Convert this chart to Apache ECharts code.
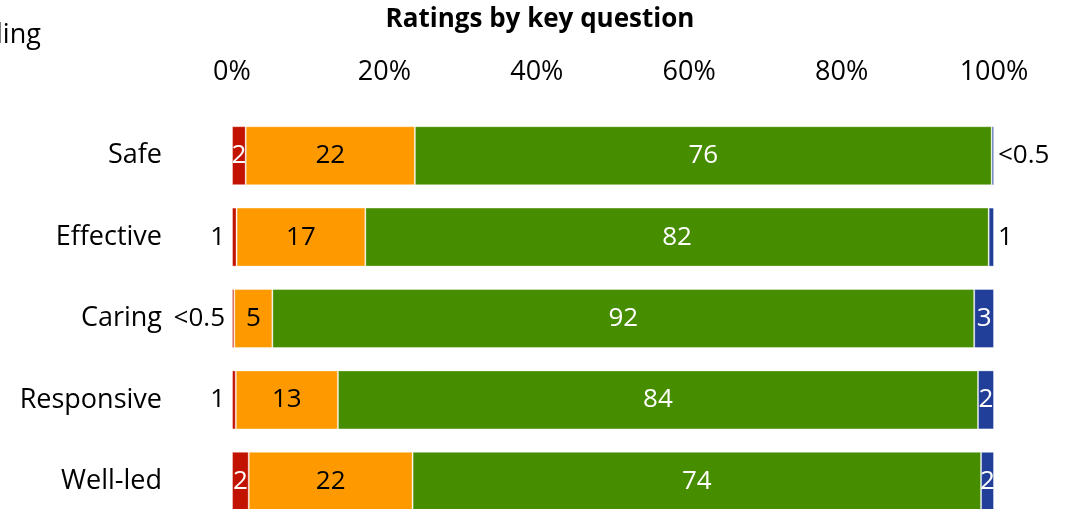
<!DOCTYPE html>
<html>
<head>
<meta charset="utf-8">
<script src="https://cdn.jsdelivr.net/npm/echarts@6/dist/echarts.min.js"></script>
<style>
html,body{margin:0;padding:0;background:#fff;overflow:hidden;width:1071px;height:509px;}
#c{width:1071px;height:540px;}
</style>
</head>
<body>
<div id="c"></div>
<script>
const categories = ['Safe', 'Effective', 'Caring', 'Responsive', 'Well-led'];
const seriesNames = ['Inadequate', 'Requires improvement', 'Good', 'Outstanding'];
const inadequate = [1.8, 0.6, 0.3, 0.5, 2.2];
const requiresImprovement = [22.2, 16.9, 5.0, 13.4, 21.5];
const good = [75.7, 81.8, 92.1, 84.0, 74.6];
const outstanding = [0.3, 0.7, 2.6, 2.1, 1.7];
const inadequateLabels = ['2', '1', '<0.5', '1', '2'];
const requiresLabels = ['22', '17', '5', '13', '22'];
const goodLabels = ['76', '82', '92', '84', '74'];
const outstandingLabels = ['<0.5', '1', '3', '2', '2'];
const tickLabels = ['0%', '20%', '40%', '60%', '80%', '100%'];

const FONT = 'Open Sans';
const colors = ['#C21300', '#FE9A00', '#478D00', '#213F98'];

function items(values, labels, rule) {
  return values.map((v, i) => {
    const mode = rule(i);
    let label;
    if (mode === 'left') {
      label = {position: 'left', distance: 7, color: '#000'};
    } else if (mode === 'right') {
      label = {position: 'right', distance: 4, color: '#000'};
    } else {
      label = {position: 'inside', color: mode === 'white' ? '#fff' : '#000'};
    }
    return {value: v, label: Object.assign({show: true, formatter: labels[i], fontFamily: FONT, fontSize: 26}, label)};
  });
}

const series = [
  {name: seriesNames[0], data: items(inadequate, inadequateLabels, i => (inadequate[i] >= 1.5 ? 'white' : 'left'))},
  {name: seriesNames[1], data: items(requiresImprovement, requiresLabels, () => 'black')},
  {name: seriesNames[2], data: items(good, goodLabels, () => 'white')},
  {name: seriesNames[3], data: items(outstanding, outstandingLabels, i => (outstanding[i] >= 1.5 ? 'white' : 'right'))}
].map((s, k) => Object.assign({
  type: 'bar', stack: 'all', barWidth: 59,
  itemStyle: {color: colors[k], borderColor: 'rgba(255,255,255,0.35)', borderWidth: 1},
  emphasis: {disabled: true}, animation: false
}, s));

const chart = echarts.init(document.getElementById('c'));
chart.setOption({
  animation: false,
  title: {
    text: 'Ratings by key question', left: 535, top: 2, textAlign: 'center',
    textStyle: {fontFamily: FONT, fontSize: 26, fontWeight: 'bold', color: '#000'}
  },
  graphic: [{
    type: 'text', left: -4, top: 22,
    style: {text: 'ling', fontFamily: FONT, fontSize: 27, fill: '#000'}
  }],
  grid: {left: 232, width: 762, top: 115, height: 407, containLabel: false},
  xAxis: {
    type: 'value', position: 'top', min: 0, max: 100, interval: 20,
    axisLine: {show: false}, axisTick: {show: false}, splitLine: {show: false},
    axisLabel: {
      margin: 29, fontFamily: FONT, fontSize: 27, color: '#000',
      formatter: v => tickLabels[Math.round(v / 20)]
    }
  },
  yAxis: {
    type: 'category', data: categories, inverse: true,
    axisLine: {show: false}, axisTick: {show: false},
    axisLabel: {margin: 70, fontFamily: FONT, fontSize: 27, color: '#000'}
  },
  series: series
});
</script>
</body>
</html>
